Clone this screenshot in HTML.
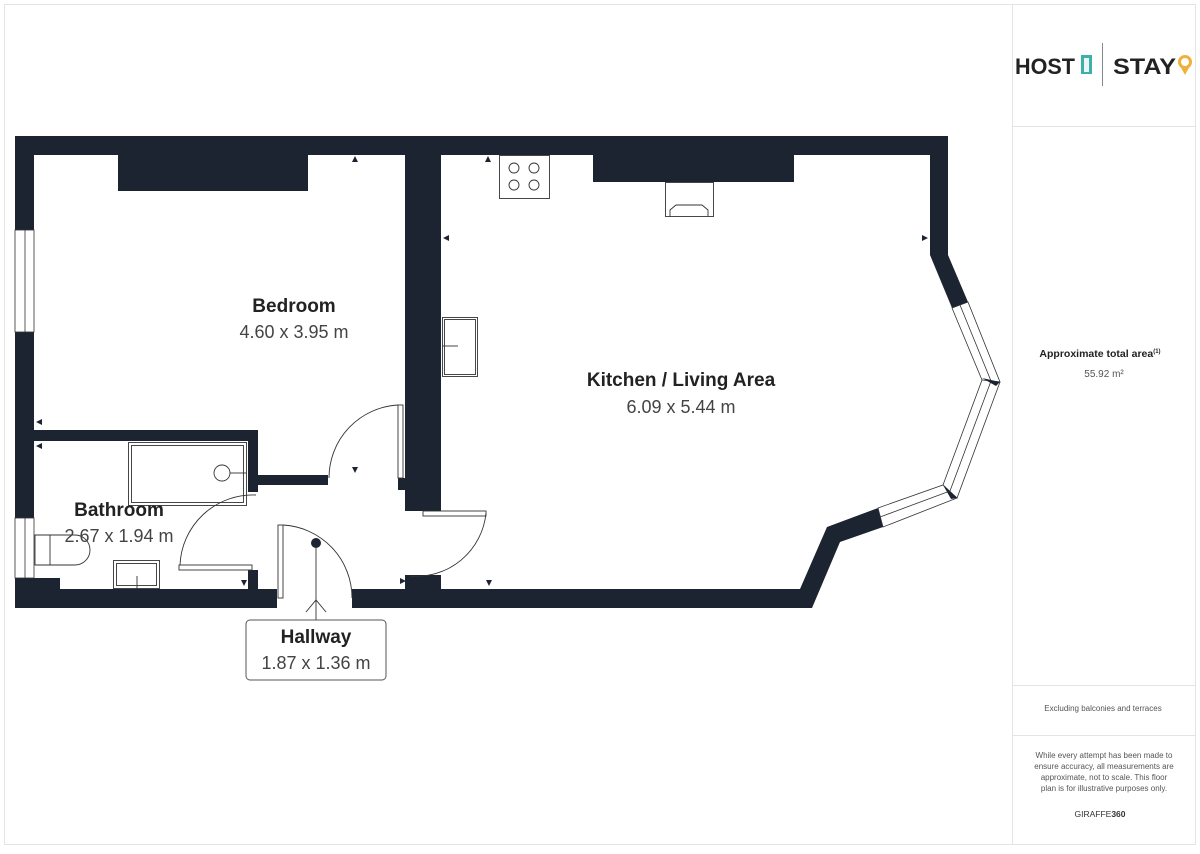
<!DOCTYPE html>
<html><head><meta charset="utf-8"><style>
html,body{margin:0;padding:0;background:#fff;}
body{width:1200px;height:849px;overflow:hidden;font-family:"Liberation Sans",sans-serif;}
</style></head><body>
<svg width="1200" height="849" viewBox="0 0 1200 849" xmlns="http://www.w3.org/2000/svg" font-family="Liberation Sans, sans-serif">
<rect x="4.5" y="4.5" width="1191" height="840" fill="none" stroke="#e4e4e4"/>
<line x1="1012.5" y1="4" x2="1012.5" y2="845" stroke="#e4e4e4"/>
<line x1="1012" y1="126.5" x2="1196" y2="126.5" stroke="#e4e4e4"/>
<line x1="1012" y1="685.5" x2="1196" y2="685.5" stroke="#e4e4e4"/>
<line x1="1012" y1="735.5" x2="1196" y2="735.5" stroke="#e4e4e4"/>
<!-- logo -->
<text x="1015" y="74" font-size="22" font-weight="bold" fill="#222" textLength="60" lengthAdjust="spacingAndGlyphs">HOST</text>
<rect x="1081" y="55" width="11" height="19" fill="#3fb0a8"/>
<rect x="1084" y="58" width="5" height="14" fill="#e8f6f5"/>
<line x1="1102.5" y1="43" x2="1102.5" y2="86" stroke="#888"/>
<text x="1113" y="74" font-size="22" font-weight="bold" fill="#222" textLength="63" lengthAdjust="spacingAndGlyphs">STAY</text>
<circle cx="1185" cy="62" r="5.5" fill="none" stroke="#f0b13c" stroke-width="3"/>
<path d="M1180,66 L1185,75 L1190,66" fill="#f0b13c"/>
<text x="1100" y="357" font-size="10.5" font-weight="bold" fill="#222" text-anchor="middle">Approximate total area<tspan font-size="6" dy="-4">(1)</tspan></text>
<text x="1104" y="377" font-size="10" fill="#555" text-anchor="middle">55.92 m²</text>
<text x="1103" y="711" font-size="8" fill="#555" text-anchor="middle">Excluding balconies and terraces</text>
<g font-size="8" fill="#555" text-anchor="middle">
<text x="1104" y="758">While every attempt has been made to</text>
<text x="1104" y="769">ensure accuracy, all measurements are</text>
<text x="1104" y="780">approximate, not to scale. This floor</text>
<text x="1104" y="791">plan is for illustrative purposes only.</text>
</g>
<text x="1100" y="817" font-size="8.5" fill="#333" text-anchor="middle">GIRAFFE<tspan font-weight="bold">360</tspan></text>

<!-- walls -->
<g fill="#1b2430">
<polygon points="15,136 948,136 948,255 968,302 1000,382 957,498 883,527 840,542 812,608 15,608"/>
</g>
<g fill="#fff">
<rect x="34" y="155" width="371" height="434"/>
<polygon points="441,155 930,155 930,255 952,308 982,380 943,485 878,508 827,527 800,589 441,589"/>
<rect x="405" y="511" width="36" height="64"/>
<rect x="277" y="588" width="75" height="22"/>
<rect x="15" y="230" width="19" height="102" stroke="#333" stroke-width="0.8"/>
<rect x="15" y="518" width="19" height="60" stroke="#333" stroke-width="0.8"/>
<polygon points="952,308 968,302 1000,382 982,380" stroke="#333" stroke-width="0.8"/>
<polygon points="982,380 1000,382 957,498 943,485" stroke="#333" stroke-width="0.8"/>
<polygon points="943,485 957,498 883,527 878,508" stroke="#333" stroke-width="0.8"/>
</g>
<g stroke="#333" stroke-width="0.8">
<line x1="25" y1="230" x2="25" y2="332"/><line x1="25" y1="518" x2="25" y2="578"/>
<line x1="960" y1="305" x2="991" y2="381"/>
<line x1="991" y1="381" x2="950" y2="491"/>
<line x1="950" y1="491" x2="880" y2="517"/>
</g>
<g fill="#1b2430">
<polygon points="982,378 1000,382 996,386"/>
<polygon points="943,485 957,498 951,499"/>
<rect x="118" y="155" width="190" height="36"/>
<rect x="593" y="155" width="201" height="27"/>
<rect x="405" y="155" width="36" height="356"/>
<rect x="405" y="575" width="36" height="14"/>
<rect x="34" y="430" width="224" height="11"/>
<rect x="248" y="430" width="10" height="62"/>
<rect x="258" y="475" width="70" height="10"/>
<rect x="34" y="578" width="26" height="11"/>
<rect x="248" y="570" width="10" height="19"/>
<rect x="398" y="478" width="7" height="12"/>
</g>
<!-- fixtures -->
<g fill="none" stroke="#333" stroke-width="0.9">
<rect x="128.5" y="442.5" width="118" height="63"/>
<rect x="131.5" y="445.5" width="112" height="57"/>
<circle cx="222" cy="473" r="8"/><line x1="230" y1="473" x2="246" y2="473"/>
<path d="M35,535 H50 V565 H35 Z"/><path d="M48,535 H75 A15,15 0 0 1 75,565 H48"/>
<rect x="113.5" y="560.5" width="46" height="28"/><rect x="116.5" y="563.5" width="40" height="22"/>
<line x1="137" y1="576" x2="137" y2="589"/>
<rect x="179" y="565" width="73" height="5"/>
<path d="M180,565 A73,73 0 0 1 256,495"/>
<rect x="278" y="525" width="5" height="73"/>
<path d="M283,525 A73,73 0 0 1 352,598"/>
<rect x="398" y="405" width="5" height="73"/>
<path d="M329,478 A73,73 0 0 1 398,405"/>
<rect x="423" y="511" width="63" height="5"/>
<path d="M486,513 A70,70 0 0 1 410,576"/>
<rect x="499.5" y="155.5" width="50" height="43"/>
<circle cx="514" cy="168" r="5"/><circle cx="534" cy="168" r="5"/>
<circle cx="514" cy="185" r="5"/><circle cx="534" cy="185" r="5"/>
<rect x="665.5" y="182.5" width="48" height="34"/>
<path d="M670,216 V210 L676,205 H702 L708,210 V216"/>
<rect x="442.5" y="317.5" width="35" height="59"/><rect x="444.5" y="319.5" width="31" height="55"/>
<line x1="442" y1="346" x2="458" y2="346"/>
<line x1="316" y1="543" x2="316" y2="620"/>
<path d="M306,612 L316,600 L326,612"/>
</g>
<circle cx="316" cy="543" r="5" fill="#1b2430"/>
<g fill="#1b2430">
<polygon points="352,162 355,156 358,162"/><polygon points="485,162 488,156 491,162"/>
<polygon points="443,238 449,235 449,241"/><polygon points="928,238 922,235 922,241"/>
<polygon points="36,422 42,419 42,425"/><polygon points="36,446 42,443 42,449"/>
<polygon points="352,467 355,473 358,467"/><polygon points="241,580 244,586 247,580"/>
<polygon points="486,580 489,586 492,580"/><polygon points="400,584 406,581 400,578"/>
</g>
<!-- labels -->
<g text-anchor="middle">
<text x="294" y="312" font-size="19" font-weight="bold" fill="#222">Bedroom</text>
<text x="294" y="338" font-size="18" fill="#444">4.60 x 3.95 m</text>
<text x="681" y="386" font-size="19" font-weight="bold" fill="#222">Kitchen / Living Area</text>
<text x="681" y="413" font-size="18" fill="#444">6.09 x 5.44 m</text>
<text x="119" y="516" font-size="19" font-weight="bold" fill="#222">Bathroom</text>
<text x="119" y="542" font-size="18" fill="#444">2.67 x 1.94 m</text>
</g>
<rect x="246" y="620" width="140" height="60" rx="4" fill="#fff" stroke="#555"/>
<text x="316" y="643" font-size="19" font-weight="bold" fill="#222" text-anchor="middle">Hallway</text>
<text x="316" y="669" font-size="18" fill="#444" text-anchor="middle">1.87 x 1.36 m</text>
</svg>
</body></html>
